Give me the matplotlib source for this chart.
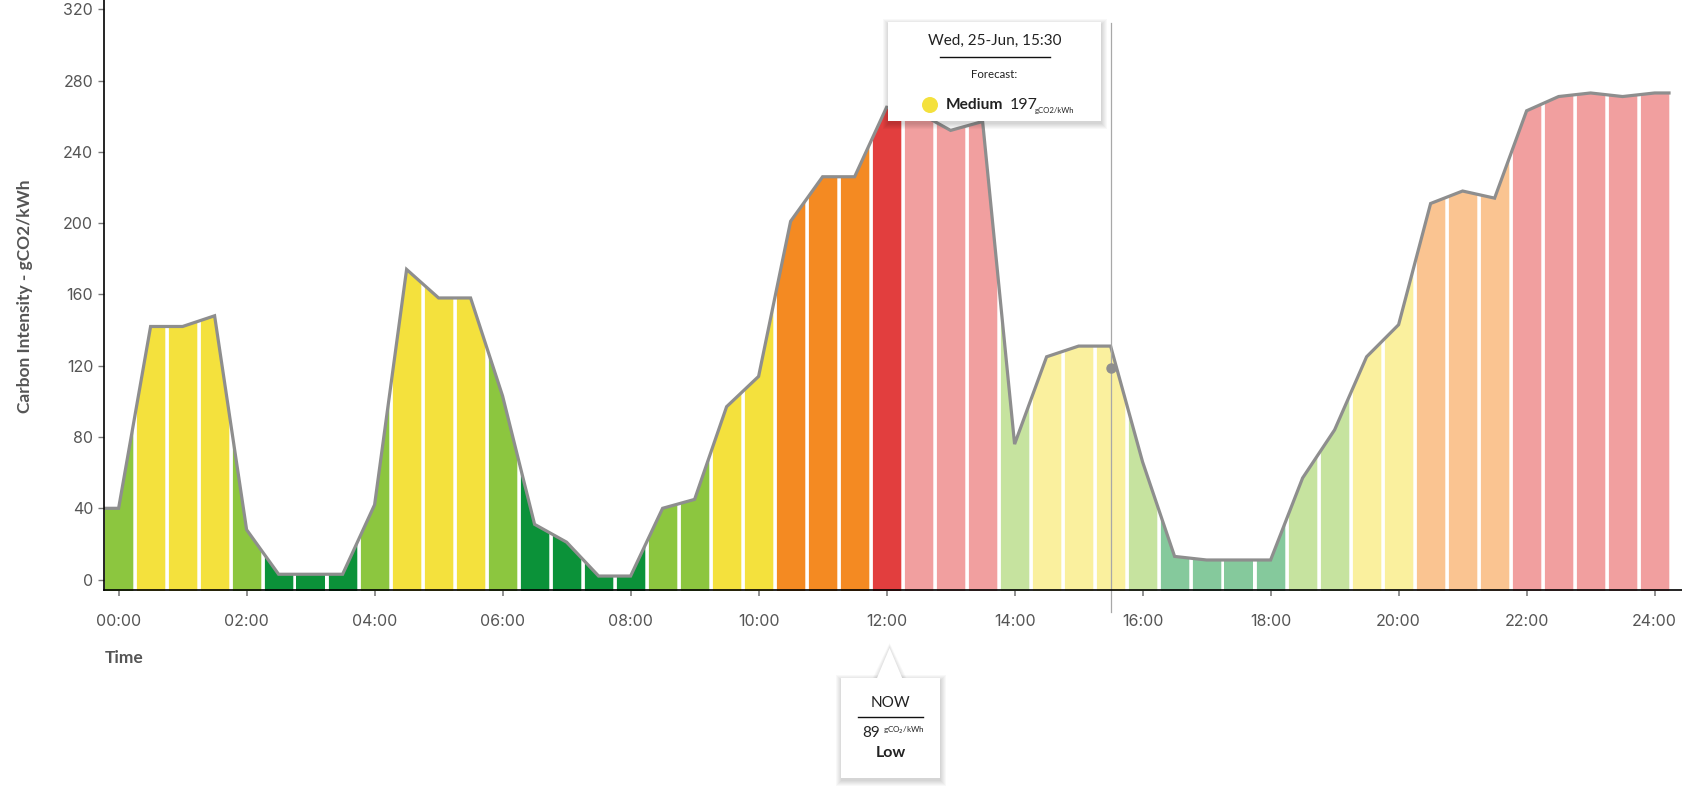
import numpy as np
import matplotlib
matplotlib.use("Agg")
import matplotlib.pyplot as plt
from matplotlib.patches import Polygon, Circle, Rectangle
from matplotlib.colors import to_rgb

# ---------------- data ----------------
tick_labels = ["00:00", "02:00", "04:00", "06:00", "08:00", "10:00", "12:00",
               "14:00", "16:00", "18:00", "20:00", "22:00", "24:00"]
tick_hours = [0, 2, 4, 6, 8, 10, 12, 14, 16, 18, 20, 22, 24]

# half-hourly slots 00:00 .. 24:00
slot_hours = np.arange(49) * 0.5

intensity = [40, 142, 142, 148, 28, 3, 3, 3, 42, 174, 158, 158, 103, 31, 21, 2,
             2, 40, 45, 97, 114, 201, 226, 226, 265, 262, 252, 257, 76, 125, 131,
             131, 66, 13, 11, 11, 11, 57, 84, 125, 143, 211, 218, 214, 263, 271,
             273, 271, 273]

index = ["low", "moderate", "moderate", "moderate", "low", "very low", "very low",
         "very low", "low", "moderate", "moderate", "moderate", "low", "very low",
         "very low", "very low", "very low", "low", "low", "moderate", "moderate",
         "high", "high", "high", "very high", "very high", "very high", "very high",
         "low", "moderate", "moderate", "moderate", "low", "very low", "very low",
         "very low", "very low", "low", "low", "moderate", "moderate", "high",
         "high", "high", "very high", "very high", "very high", "very high",
         "very high"]

now_hour = 12.0
hover_hour = 15.5
hover_dot_value = 118.5

index_colors = {
    "very low": "#0b9239",
    "low": "#8cc63f",
    "moderate": "#f4e13d",
    "high": "#f48a22",
    "very high": "#e23e3e",
}

# ---------------- figure ----------------
W, H = 1682, 788
fig = plt.figure(figsize=(W / 100, H / 100), dpi=100)
ax_left_px, ax_bottom_px = 104.3, 590.0
ax = fig.add_axes([ax_left_px / W, (H - ax_bottom_px) / H,
                   1 - ax_left_px / W, ax_bottom_px / H])

x0_px, hour_px = 118.6, 64.0
xmin = (ax_left_px - x0_px) / hour_px
xmax = (W - x0_px) / hour_px
ax.set_xlim(xmin, xmax)
y0_px, unit_px = 579.6, 71.3 / 40
ymin = -(ax_bottom_px - y0_px) / unit_px
ymax = y0_px / unit_px
ax.set_ylim(ymin, ymax)


def fade(c, f=0.5):
    r, g, b = to_rgb(c)
    return (r + (1 - r) * f, g + (1 - g) * f, b + (1 - b) * f)


vals = np.array(intensity, dtype=float)
x_ext = np.concatenate([[slot_hours[0] - 0.25], slot_hours, [slot_hours[-1] + 0.25]])
y_ext = np.concatenate([[vals[0]], vals, [vals[-1]]])

gap = 3.6 / hour_px
for t, v, idx in zip(slot_hours, vals, index):
    a = t - 0.25 + gap / 2
    b = t + 0.25 - gap / 2
    xs = np.array([a, t, b])
    ys = np.interp(xs, x_ext, y_ext)
    col = index_colors[idx]
    if t > now_hour:
        col = fade(col, 0.5)
    ax.fill_between(xs, ymin - 5, ys, color=col, lw=0, zorder=2)

ax.plot(x_ext, y_ext, color="#8e8e8e", lw=2.3, solid_joinstyle="miter",
        solid_capstyle="butt", zorder=4)

# hover line + dot
hy_top = (y0_px - 23) / unit_px
hy_bot = (y0_px - 612) / unit_px
ax.plot([hover_hour, hover_hour], [hy_bot, hy_top], color="#a8a8a8", lw=0.9,
        zorder=5, clip_on=False)
ax.plot([hover_hour + 0.012], [hover_dot_value], "o", color="#8e8e8e", ms=6.5,
        zorder=6, clip_on=False)

# axes styling
for s in ["top", "right"]:
    ax.spines[s].set_visible(False)
for s in ["left", "bottom"]:
    ax.spines[s].set_color("#000000")
    ax.spines[s].set_linewidth(1.2)
    ax.spines[s].set_zorder(7)

tick_font = dict(family=["Inter", "DejaVu Sans"], size=11.5)
ax.set_yticks(np.arange(0, 321, 40))
ax.set_yticklabels([str(v) for v in range(0, 321, 40)], **tick_font, color="#555555")
ax.set_xticks(tick_hours)
ax.set_xticklabels(tick_labels, **tick_font, color="#555555")
ax.tick_params(axis="y", length=4, width=1, color="#777777", pad=4)
ax.tick_params(axis="x", length=4, width=1.3, color="#888888", pad=13)

label_font = dict(family=["Lato", "DejaVu Sans"], size=12.5, weight="bold",
                  color="#555555")
fig.text(25 / W, 1 - 296 / H, "Carbon Intensity - gCO2/kWh", rotation=90,
         ha="center", va="center", **label_font)
fig.text(105 / W, 1 - 658 / H, "Time", ha="left", va="center", **label_font)

# ---------------- overlay (tooltips) ----------------
ov = fig.add_axes([0, 0, 1, 1], zorder=10)
ov.set_xlim(0, W)
ov.set_ylim(H, 0)
ov.axis("off")
ov.patch.set_alpha(0)


def shadow_box(x0, y0, x1, y1):
    for k in range(1, 7):
        ov.add_patch(Rectangle((x0 - k + 1.5, y0 - k + 2.5),
                               (x1 - x0) + 2 * k - 1, (y1 - y0) + 2 * k - 1,
                               facecolor="#000000", alpha=0.028, lw=0, zorder=1))
    ov.add_patch(Rectangle((x0, y0), x1 - x0, y1 - y0, facecolor="white",
                           lw=0, zorder=2))


tip_font = ["Lato", "DejaVu Sans"]
txt_col = "#222222"

# hover tooltip
shadow_box(888, 22, 1101, 121)
ov.text(994.5, 41, "Wed, 25-Jun, 15:30", ha="center", va="center",
        family=tip_font, size=11, color=txt_col, zorder=3)
ov.plot([940, 1050], [57.3, 57.3], color="#111111", lw=1.0, zorder=3)
ov.text(994.5, 74, "Forecast:", ha="center", va="center", family=tip_font,
        size=8.3, color=txt_col, zorder=3)
ov.add_patch(Circle((930, 105), 8, facecolor=index_colors["moderate"], lw=0, zorder=3))
ov.text(945.5, 105, "Medium", ha="left", va="center", family=tip_font, size=11.2,
        weight="bold", color=txt_col, zorder=3)
ov.text(1010, 104.5, "197", ha="left", va="center", family=tip_font, size=11.5,
        color=txt_col, zorder=3)
ov.text(1035, 110, "gCO2/kWh", ha="left", va="center", family=tip_font, size=5.6,
        color=txt_col, zorder=3)

# NOW tooltip
now_px = x0_px + now_hour * hour_px + 3
for k in range(1, 6):
    ov.add_patch(Polygon([[now_px - 13 - k, 680], [now_px, 648 - k],
                          [now_px + 13 + k, 680]], closed=True,
                         facecolor="#000000", alpha=0.025, lw=0, zorder=1))
shadow_box(841, 678, 940, 778)
ov.add_patch(Polygon([[now_px - 13, 679], [now_px, 648], [now_px + 13, 679]],
                     closed=True, facecolor="white", lw=0, zorder=2))
ov.text(890.5, 703, "NOW", ha="center", va="center", family=tip_font, size=11,
        color=txt_col, zorder=3)
ov.plot([858, 923], [716.7, 716.7], color="#111111", lw=1.0, zorder=3)
ov.text(871, 733, "89", ha="center", va="center", family=tip_font, size=11,
        color=txt_col, zorder=3)
ov.text(883, 730.5, "gCO$_2$/kWh", ha="left", va="center", family=tip_font,
        size=5.8, color=txt_col, zorder=3)
ov.text(890.5, 753, "Low", ha="center", va="center", family=tip_font, size=11.5,
        weight="bold", color=txt_col, zorder=3)

fig.savefig("out.png", dpi=100)
